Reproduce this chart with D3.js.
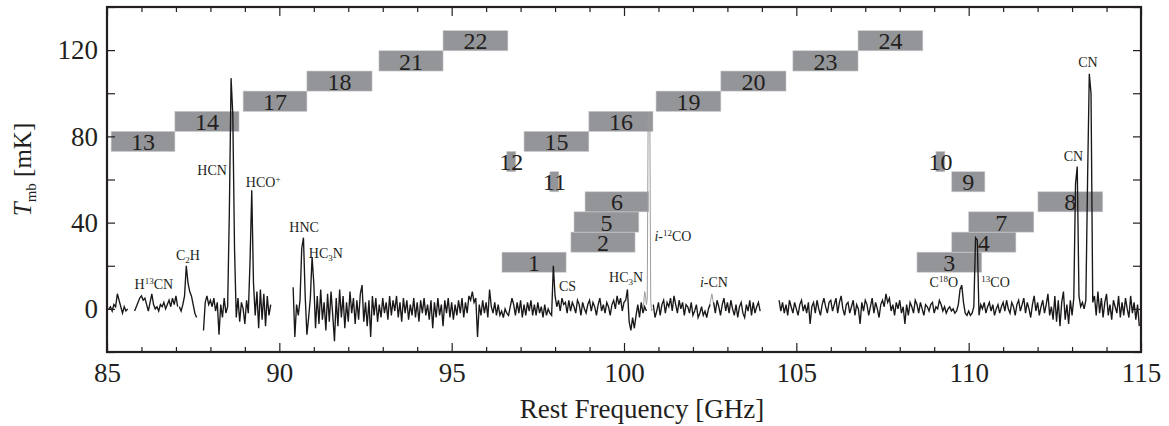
<!DOCTYPE html>
<html><head><meta charset="utf-8">
<script src="https://cdn.jsdelivr.net/npm/d3@7"></script>
<style>
html,body{margin:0;padding:0;background:#fff;}
svg text{font-family:"Liberation Serif","Times New Roman",serif;fill:#231f20;}
</style></head><body>
<svg id="chart" width="1169" height="426"></svg>
<script>
// ---------------- data ----------------
const xMajorTicks = [85, 90, 95, 100, 105, 110, 115];
const xMinorTicks = [86, 87, 88, 89, 91, 92, 93, 94, 96, 97, 98, 99, 101, 102, 103, 104, 106, 107, 108, 109, 111, 112, 113, 114];
const yTicks = [-20, 0, 20, 40, 60, 80, 100, 120, 140];
const yTickLabels = [0, 40, 80, 120];

// frequency bands (sub-band coverage boxes)
const bandNames = ["1","2","3","4","5","6","7","8","9","10","11","12","13","14","15","16","17","18","19","20","21","22","23","24"];
const bandStart = [96.46, 98.46, 108.50, 109.51, 98.55, 98.87, 110.00, 112.01, 109.51, 109.05, 97.85, 96.60, 85.12, 86.97, 97.10, 98.98, 88.95, 90.80, 100.93, 102.81, 92.89, 94.75, 104.90, 106.79];
const bandEnd   = [98.32, 100.32, 110.38, 111.37, 100.43, 100.72, 111.89, 113.89, 110.47, 109.31, 98.11, 96.86, 86.97, 88.83, 98.98, 100.84, 90.80, 92.69, 102.81, 104.70, 94.75, 96.63, 106.79, 108.67];
const bandLow   = [17.0, 26.3, 17.0, 26.3, 35.6, 45.0, 35.6, 45.0, 54.3, 63.6, 54.3, 63.6, 73.0, 82.3, 73.0, 82.3, 91.6, 101.0, 91.6, 101.0, 110.3, 119.7, 110.3, 119.7];
const bandHigh  = [26.3, 35.6, 26.3, 35.6, 45.0, 54.3, 45.0, 54.3, 63.6, 73.0, 63.6, 73.0, 82.3, 91.6, 82.3, 91.6, 101.0, 110.3, 101.0, 110.3, 119.7, 129.0, 119.7, 129.0];

// spectrum segments (T_mb in mK on a regular frequency grid)
const seg1 = [0, 1, -1, 2, 1, 7, 4, 1, -2, 1, -1, 0];
const seg2 = [-1, 1, 3, 5, 6, 4, 5, 2, -1, 3, 7, 2, 0, 1, -1, 2, 1, 3, 0, 2, 4, 1, 5, 2, 6, 1];
const seg3 = [1, -1, 2, 6, 20, 12, 8, 6, 2, -2, -4];
const seg4 = [-10, 3, 6, 2, 4, 1, 5, -1, 3, -12, 2, -4, 5, -2, 1, 45, 107, 90, 28, -4,
              5, -6, 3, 0, -7, 4, -2, 22, 55, 12, -3, 8, -9, 9, -5, 7, -8, 6, -3, 2];
const seg5 = [10, -13, 2, -3, 4, 28, 33, 6, -12, -4, 5, 24, 12, -9, 6, -7, 9, -5, 3, -10,
              7, -6, 8, -3, -15, 5, -8, 9, -4, 6, -9, 3, -6, 8, -2, 5, -7, 4, -5, 7,
              11, -6, 3, -8, 4, -13, 6, -3, 5, -6, 2, -4, 5, -2, 3, -5, 6, -3, 4, -1,
              6, -4, 3, -6, 5, -2, 4, -5, 2, -3, 5, -4, 3, -6, 4, -2, 5, -3, 2, -5,
              4, -9, 3, -4, 5, -3, 2, -8, 4, -2, 5, -4, 3, -5, 2, -3, 4, -2, 5, -4,
              3, -2, 6, 4, 8, 3, 5, -13, 2, -3, 4, -2, 3, -4, 9, 1, -2, 3, -3, 2,
              -3, -1, -4, 0, -2, -3, 1, 5, 2, -3, 3, -2, 4, -4, 2, -3, 3, -1, 4, -3,
              2, -3, 3, -2, 1, -4, 2, -3, 0, -2, -3, 20, 6, 1, 4, -1, 5, 2, 3, -2,
              4, -1, 3, 1, -2, 4, 2, -3, 3, 0, -2, 2, 4, -1, 3, 1, -3, 2, 5, -1,
              2, -2, 3, 1, -3, 2, 4, 0, 6, 2, 5, -1, 3, 4, 9, -6, -10, -4, -9, -3,
              2, -4, 3, -2, 1, -1];
const seg6 = [2, -4, -1, 3, -3, 2, 4, -2, 3, 1, 5, -1, 6, 2, -2, 4, 0, 3, -3, 2,
              1, -2, 3, -3, -1, 2, -4, -2, 1, -3, -1, -4, 0, 2];
const seg7 = [3, -2, 4, 1, -3, 2, 5, -1, 3, -2, 4, 0, -3, 2, -4, 1, 3, -2, -4, 2,
              -1, 4, -3, 3, -2, 1, 3, -1];
const seg8 = [4, -1, 3, -2, 2, -3, 4, 1, -2, 3, 0, -3, 2, 4, -1, 2, -2, 3, -7, 1,
              3, -2, 4, 0, -3, 2, 5, 1, -2, 3, 4, -1, 2, 5, -2, 3, 6, 0, -3, 2,
              3, -2, 1, 4, -3, 2, 0, -7, 3, -1, 4, 2, -3, 1, 5, -2, 3, 0, -4, 2,
              4, 1, 7, 3, 5, -1, 2, -3, 3, 0, 4, -2, 1, -7, 2, -3, 3, 1, -2, 4,
              2, -2, 3, 0, -3, 2, 1, -1, 2, 3, -2, 1, 0, 4, 2, -1, 1, -2, 0, 1,
              -1, 0, -2, -1, 2, 9, 11, 3, -2, -3, -1, -3, -2, 1, 33, 32, -3, 2, 0, 3,
              -2, 1, 3, -1, 2, -3, 0, 2, -2, 1, 3, -1, 4, 0, -2, 3, 1, -3, 2, 4,
              -1, 2, 5, -2, 3, 0, -4, 2, 6, -1, 3, -3, 1, 4, -2, 2, 7, -3, 1, -5,
              6, -6, 4, -8, 3, 8, -5, 2, -7, 4, -3, 5, 58, 66, 6, 1, 3, 0, 4, 60,
              109, 100, 3, 6, -3, 8, -2, 5, -4, 3, 7, -3, 2, -5, 4, 1, -2, 6, -4, 3,
              -3, 5, 0, -4, 6, -2, 3, -5, 2, -8];
// image-sideband features (grey)
const ghost1 = [0, 3, 8, 6, 2, 5, 90, 91, 88, 4, -1, 0];
const ghost2 = [0, 3, 7, 2, 1];

const blackSegments = [
  {start: 85.05, step: 0.05, values: seg1},
  {start: 85.80, step: 0.05, values: seg2},
  {start: 87.10, step: 0.05, values: seg3},
  {start: 87.80, step: 0.05, values: seg4},
  {start: 90.40, step: 0.05, values: seg5},
  {start: 100.85, step: 0.05, values: seg6},
  {start: 102.60, step: 0.05, values: seg7},
  {start: 104.50, step: 0.05, values: seg8}
];
const greySegments = [
  {start: 100.55, step: 0.025, values: ghost1},
  {start: 102.45, step: 0.05, values: ghost2}
];

// line identifications: [parts, freq, T]
const lineLabels = [
  [[["H",""],["13","sup"],["CN",""]], 86.36, 9.3],
  [[["C",""],["2","sub"],["H",""]], 87.35, 22.8],
  [[["HCN",""]], 88.05, 62.3],
  [[["HCO",""],["+","sup"]], 89.53, 56.7],
  [[["HNC",""]], 90.72, 35.8],
  [[["HC",""],["3","sub"],["N",""]], 91.35, 23.7],
  [[["CS",""]], 98.36, 8.4],
  [[["HC",""],["3","sub"],["N",""]], 100.06, 12.6],
  [[["i","it"],["-",""],["12","sup"],["CO",""]], 101.42, 31.6],
  [[["i","it"],["-CN",""]], 102.61, 10.2],
  [[["C",""],["18","sup"],["O",""]], 109.28, 10.2],
  [[["13","sup"],["CO",""]], 110.78, 10.2],
  [[["CN",""]], 113.04, 68.4],
  [[["CN",""]], 113.46, 112.1]
];

// ---------------- chart ----------------
const svg = d3.select("#chart");
const L = 107, R = 1141, T = 7, B = 352;
const x = d3.scaleLinear().domain([85, 115]).range([L, R]);
const y = d3.scaleLinear().domain([-20, 140]).range([B, T]);
const ink = "#231f20";

// bands
const bands = bandNames.map((n, i) => ({n, f0: bandStart[i], f1: bandEnd[i], lo: bandLow[i], hi: bandHigh[i]}));
const gb = svg.append("g");
gb.selectAll("rect").data(bands).join("rect")
  .attr("x", d => x(d.f0)).attr("y", d => y(d.hi))
  .attr("width", d => x(d.f1) - x(d.f0)).attr("height", d => y(d.lo) - y(d.hi))
  .attr("fill", "#949599").attr("stroke", "#c9c9cc").attr("stroke-width", 0.6);
gb.selectAll("text").data(bands).join("text")
  .attr("x", d => (x(d.f0) + x(d.f1)) / 2).attr("y", d => y(d.lo) - 1.5)
  .attr("text-anchor", "middle").attr("font-size", 24).text(d => d.n);

// spectrum
const line = d3.line().x(d => x(d[0])).y(d => y(d[1]));
const toPts = s => s.values.map((v, i) => [s.start + i * s.step, v]);
svg.append("g").selectAll("path").data(greySegments).join("path")
  .attr("d", s => line(toPts(s))).attr("fill", "none")
  .attr("stroke", "#9d9d9f").attr("stroke-width", 1);
svg.append("g").selectAll("path").data(blackSegments).join("path")
  .attr("d", s => line(toPts(s))).attr("fill", "none")
  .attr("stroke", "#1a1718").attr("stroke-width", 1.35).attr("stroke-linejoin", "miter");

// line labels
const gl = svg.append("g");
lineLabels.forEach(([parts, f, t]) => {
  const txt = gl.append("text").attr("x", x(f)).attr("y", y(t))
    .attr("text-anchor", "middle").attr("font-size", 14);
  let shift = 0;
  parts.forEach(([s, kind]) => {
    const ts = txt.append("tspan").text(s);
    let target = 0;
    if (kind === "sup") { target = -5; ts.attr("font-size", 9); }
    else if (kind === "sub") { target = 3; ts.attr("font-size", 9); }
    else if (kind === "it") { ts.attr("font-style", "italic"); }
    ts.attr("dy", target - shift);
    shift = target;
  });
});

// axes
function styleAxis(g) {
  g.select(".domain").remove();
  g.selectAll("line").attr("stroke", ink).attr("stroke-width", 1.2);
  g.selectAll("text").attr("font-family", '"Liberation Serif","Times New Roman",serif')
    .attr("font-size", 27).attr("fill", ink);
}
svg.append("g").attr("transform", `translate(0,${B})`)
  .call(d3.axisBottom(x).tickValues(xMajorTicks).tickSize(-9).tickPadding(11).tickFormat(d3.format("d")))
  .call(styleAxis);
svg.append("g").attr("transform", `translate(0,${B})`)
  .call(d3.axisBottom(x).tickValues(xMinorTicks).tickSize(-5).tickFormat(""))
  .call(styleAxis);
svg.append("g").attr("transform", `translate(0,${T})`)
  .call(d3.axisTop(x).tickValues(xMajorTicks).tickSize(-9).tickFormat(""))
  .call(styleAxis);
svg.append("g").attr("transform", `translate(0,${T})`)
  .call(d3.axisTop(x).tickValues(xMinorTicks).tickSize(-5).tickFormat(""))
  .call(styleAxis);
svg.append("g").attr("transform", `translate(${L},0)`)
  .call(d3.axisLeft(y).tickValues(yTicks).tickSize(-8).tickPadding(9)
    .tickFormat(d => yTickLabels.includes(d) ? d : ""))
  .call(styleAxis);
svg.append("g").attr("transform", `translate(${R},0)`)
  .call(d3.axisRight(y).tickValues(yTicks).tickSize(-8).tickFormat(""))
  .call(styleAxis);

// frame
svg.append("rect").attr("x", L).attr("y", T).attr("width", R - L).attr("height", B - T)
  .attr("fill", "none").attr("stroke", ink).attr("stroke-width", 2.2);

// axis titles
svg.append("text").attr("x", 642).attr("y", 418).attr("text-anchor", "middle")
  .attr("font-size", 27).text("Rest Frequency [GHz]");
const yt = svg.append("text").attr("transform", `translate(31,${(y(80)+y(40))/2 - 10}) rotate(-90)`)
  .attr("text-anchor", "middle").attr("font-size", 25);
yt.append("tspan").attr("font-style", "italic").text("T");
yt.append("tspan").attr("font-size", 15).attr("dy", 5).text("mb");
yt.append("tspan").attr("dy", -5).text(" [mK]");
</script></body></html>
